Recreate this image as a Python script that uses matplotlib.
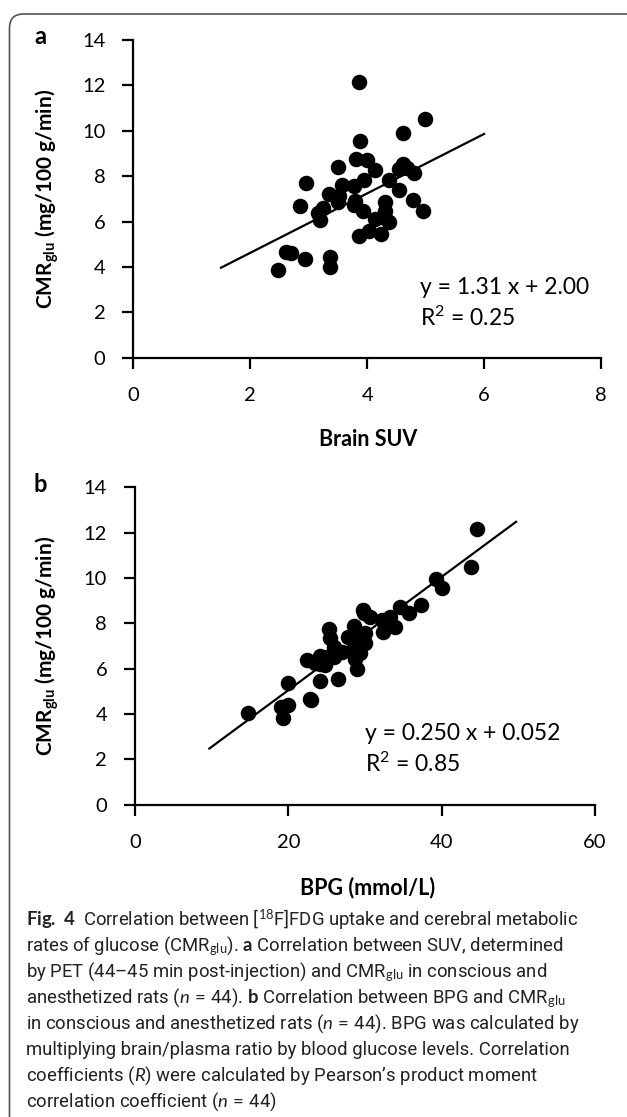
import numpy as np
import matplotlib
matplotlib.use("Agg")
import matplotlib.pyplot as plt
from matplotlib.patches import FancyBboxPatch

plt.rcParams['font.family'] = ['Lato', 'DejaVu Sans']
plt.rcParams['mathtext.fontset'] = 'custom'
plt.rcParams['mathtext.rm'] = 'Lato'
plt.rcParams['mathtext.it'] = 'Lato:italic'
plt.rcParams['mathtext.bf'] = 'Lato:bold'

# panel a: brain SUV vs CMRglu
suv = [3.86, 4.99, 4.61, 3.87, 3.81, 3.99, 3.50, 4.13, 4.62, 4.54, 4.68,
       4.80, 3.94, 4.37, 2.95, 3.57, 3.77, 4.55, 3.35, 3.52, 3.50, 3.80,
       4.30, 4.79, 2.85, 3.24, 3.77, 3.93, 4.31, 4.96, 3.16, 3.19, 4.14,
       4.31, 4.38, 3.86, 4.03, 4.24, 2.61, 2.69, 2.93, 3.36, 3.36, 2.47]
cmr_a = [12.15, 10.50, 9.91, 9.53, 8.77, 8.73, 8.41, 8.26, 8.55, 8.31, 8.36,
         8.13, 7.85, 7.84, 7.68, 7.60, 7.55, 7.38, 7.21, 7.14, 6.84, 6.92,
         6.84, 6.95, 6.67, 6.60, 6.74, 6.48, 6.48, 6.45, 6.36, 6.07, 6.11,
         6.15, 5.97, 5.38, 5.60, 5.45, 4.65, 4.62, 4.33, 4.43, 3.99, 3.85]
fit_a = (1.31, 2.00)
fit_a_range = (1.5, 6.0)

# panel b: BPG vs CMRglu
bpg = [44.6, 43.8, 39.3, 40.1, 37.3, 34.6, 35.7, 29.8, 30.6, 32.2, 33.3,
       33.9, 32.3, 28.5, 30.0, 25.3, 27.8, 25.4, 29.1, 30.0, 25.9, 27.0,
       28.5, 25.0, 22.4, 24.1, 24.8, 23.5, 29.3, 28.7, 29.0, 26.5, 24.1,
       19.9, 22.8, 23.0, 20.0, 19.1, 19.3, 14.8, 28.5, 25.9, 29.9, 24.1]
cmr_b = [12.16, 10.50, 9.94, 9.54, 8.81, 8.73, 8.44, 8.59, 8.29, 8.15, 8.29,
         7.82, 7.63, 7.90, 7.56, 7.74, 7.41, 7.34, 7.27, 7.15, 6.97, 6.75,
         6.90, 6.53, 6.38, 6.56, 6.16, 6.24, 6.68, 6.41, 5.97, 5.55, 5.46,
         5.38, 4.66, 4.62, 4.40, 4.32, 3.84, 4.03, 7.55, 6.50, 8.45, 6.20]
fit_b = (0.250, 0.052)
fit_b_range = (9.7, 49.7)

W, H = 627, 1117
fig = plt.figure(figsize=(W / 100, H / 100), dpi=100)

# background layer in pixel coordinates
bg = fig.add_axes([0, 0, 1, 1])
bg.set_xlim(0, W)
bg.set_ylim(H, 0)
bg.axis('off')
frame = FancyBboxPatch((9.5, 14), 700, 1300, boxstyle="round,pad=0,rounding_size=14",
                       fc='none', ec='#555555', lw=1.2)
bg.add_patch(frame)


def panel(rect_px, x, y, fit, fit_range, xmax, xstep, eq_xy, eq_text, r2_text):
    left, top, right, bottom = rect_px
    ax = fig.add_axes([left / W, 1 - bottom / H, (right - left) / W, (bottom - top) / H])
    ax.scatter(x, y, s=125, color='black', zorder=3, linewidths=0)
    xs = np.array(fit_range)
    ax.plot(xs, fit[0] * xs + fit[1], color='black', lw=1.6)
    ax.set_xlim(0, xmax)
    ax.set_ylim(0, 14)
    ax.set_xticks(np.arange(0, xmax + 0.1, xstep))
    ax.set_yticks(np.arange(0, 15, 2))
    for s in ['top', 'right']:
        ax.spines[s].set_visible(False)
    for s in ['left', 'bottom']:
        ax.spines[s].set_linewidth(1.6)
    ax.tick_params(axis='both', direction='out', length=8, width=1.6, labelsize=14.5)
    ax.tick_params(axis='y', pad=12)
    ax.tick_params(axis='x', pad=13)
    ax.text(eq_xy[0], eq_xy[1], eq_text, fontsize=16.5, va='center', ha='left')
    ax.text(eq_xy[0], eq_xy[1] - 1.35, r2_text, fontsize=16.5, va='center', ha='left')
    return ax


panel((133.3, 40, 601, 357.7), suv, cmr_a, fit_a, fit_a_range, 8, 2,
      (4.9, 3.11), 'y = 1.31 x + 2.00', 'R$^2$ = 0.25')
panel((135, 487.3, 595, 804.7), bpg, cmr_b, fit_b, fit_b_range, 60, 20,
      (30.0, 3.15), 'y = 0.250 x + 0.052', 'R$^2$ = 0.85')

ylab = r'CMR$_{\mathbf{glu}}$ (mg/100 g/min)'
bg.text(47, 199, ylab, rotation=90, fontsize=15, fontweight='bold', ha='center', va='center')
bg.text(47, 646, ylab, rotation=90, fontsize=15, fontweight='bold', ha='center', va='center')
bg.text(368, 440, 'Brain SUV', fontsize=15.5, fontweight='bold', ha='center', va='center')
bg.text(368, 888, 'BPG (mmol/L)', fontsize=15.5, fontweight='bold', ha='center', va='center')
bg.text(40, 36, 'a', fontsize=17, fontweight='bold', ha='center', va='center')
bg.text(40, 485, 'b', fontsize=17, fontweight='bold', ha='center', va='center')

caption = [
    r'$\mathbf{Fig.\ 4}$  Correlation between [$^{18}$F]FDG uptake and cerebral metabolic',
    r'rates of glucose (CMR$_{\mathrm{glu}}$). $\mathbf{a}$ Correlation between SUV, determined',
    r'by PET (44–45 min post-injection) and CMR$_{\mathrm{glu}}$ in conscious and',
    r'anesthetized rats ($\mathit{n}\,=\,$44). $\mathbf{b}$ Correlation between BPG and CMR$_{\mathrm{glu}}$',
    r'in conscious and anesthetized rats ($\mathit{n}\,=\,$44). BPG was calculated by',
    r'multiplying brain/plasma ratio by blood glucose levels. Correlation',
    r'coefficients ($\mathit{R}$) were calculated by Pearson’s product moment',
    r'correlation coefficient ($\mathit{n}\,=\,$44)',
]
for i, line in enumerate(caption):
    bg.text(26, 920 + i * 26, line, fontsize=13.3, family=['Roboto', 'DejaVu Sans'],
            ha='left', va='center', color='#222222')

fig.savefig('out.png', dpi=100)
